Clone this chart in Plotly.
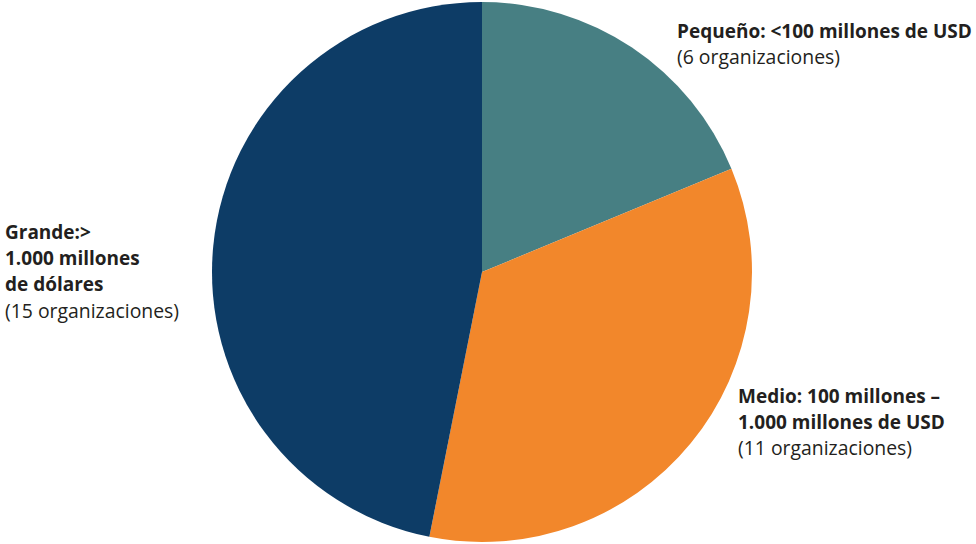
import plotly.graph_objects as go

categories = ["Pequeño", "Medio", "Grande"]
values = [6, 11, 15]
colors = ["#477F83", "#F2872B", "#0D3C66"]

label_lines = {
    "Pequeño": [("<b>Pequeño: <100 millones de USD</b>"), "(6 organizaciones)"],
    "Medio": ["<b>Medio: 100 millones –</b>", "<b>1.000 millones de USD</b>", "(11 organizaciones)"],
    "Grande": ["<b>Grande:></b>", "<b>1.000 millones</b>", "<b>de dólares</b>", "(15 organizaciones)"],
}
# label anchor (left x px, first line center y px, line spacing px)
label_pos = {
    "Pequeño": (675, 31, 26),
    "Medio": (736, 396, 25.5),
    "Grande": (3, 232, 26),
}

W, H = 976, 544
fig = go.Figure(go.Pie(
    labels=categories, values=values, sort=False, direction="clockwise",
    rotation=0, marker=dict(colors=colors, line=dict(width=0)),
    textinfo="none", hoverinfo="label+value",
    domain=dict(x=[212 / W, 752 / W], y=[1 - 542 / H, 1 - 2 / H]),
))

annotations = []
for cat in categories:
    x0, y0, dy = label_pos[cat]
    for i, line in enumerate(label_lines[cat]):
        bold = line.startswith("<b>")
        annotations.append(dict(
            text=line, xref="paper", yref="paper",
            x=x0 / W, y=1 - (y0 + i * dy) / H,
            xanchor="left", yanchor="middle", showarrow=False,
            font=dict(family="Open Sans", size=19 if bold else 19.4, color="#231F20"),
        ))

fig.update_layout(
    width=W, height=H, margin=dict(l=0, r=0, t=0, b=0),
    paper_bgcolor="white", plot_bgcolor="white",
    showlegend=False, annotations=annotations,
)
fig.write_html("out.html")
